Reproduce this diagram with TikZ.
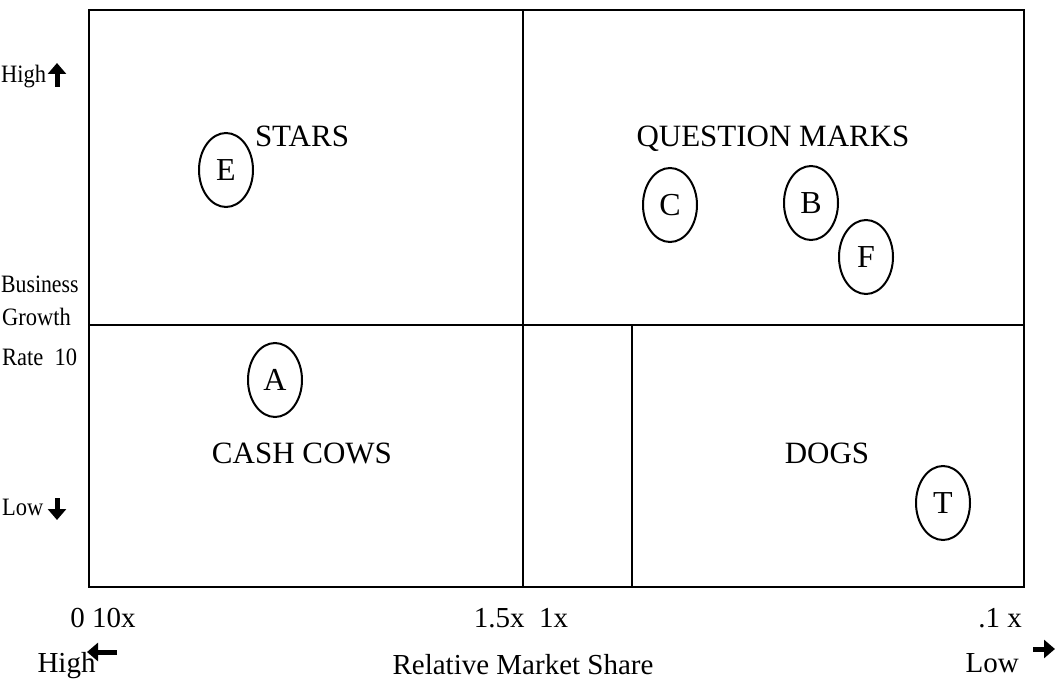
\documentclass[tikz,border=0pt]{standalone}
\usepackage{fontspec}
\setmainfont{Liberation Serif}
\usetikzlibrary{arrows.meta,shapes.geometric}
\begin{document}
\begin{tikzpicture}[x=1pt,y=-1pt,
  frame/.style={line width=1.7pt},
  pt/.style={draw,line width=2pt,ellipse,minimum width=54pt,minimum height=74pt,inner sep=0pt,font=\fontsize{32}{34}\selectfont},
  quad/.style={anchor=base,font=\fontsize{31}{34}\selectfont},
  axlab/.style={anchor=base,font=\fontsize{29}{32}\selectfont},
  sidelab/.style={anchor=base west,inner sep=0pt,font=\fontsize{25}{28}\selectfont},
  bigarrow/.style={line width=5pt,-{Triangle[width=18pt,length=11pt]}}]
\useasboundingbox (0,0) rectangle (1058,679);
% frame
\draw[frame] (89,10) rectangle (1024,587);
\coordinate (ml) at (89,325);
\coordinate (mr) at (1024,325);
\coordinate (vt) at (523,10);
\coordinate (vb) at (523,587);
\coordinate (dt) at (632,325);
\coordinate (db) at (632,587);
\draw[frame] (ml) -- (mr);
\draw[frame] (vt) -- (vb);
\draw[frame] (dt) -- (db);
% quadrant labels
\node[quad] (stars) at (302,147) {STARS};
\node[quad] (qm) at (773,147) {QUESTION MARKS};
\node[quad] (cc) at (302,463) {CASH COWS};
\node[quad] (dogs) at (827,463) {DOGS};
% points
\node[pt] (E) at (226,170) {E};
\node[pt] (C) at (670,205) {C};
\node[pt] (B) at (811,203) {B};
\node[pt] (F) at (866,257) {F};
\node[pt] (A) at (275,380) {A};
\node[pt] (T) at (943,503) {T};
% bottom axis
\node[axlab] (x0) at (103,627) {0 10x};
\node[axlab] (x15) at (521,627) {1.5x\enspace 1x};
\node[axlab] (x01) at (1000,627) {.1 x};
\node[axlab] (rms) at (523,674) {Relative Market Share};
\node[axlab,anchor=base west] (hi) at (34,672) {High};
\node[axlab,anchor=base west] (lo) at (962,672) {Low};
\coordinate (hiT) at (117,652);
\coordinate (hiH) at (87,652);
\draw[bigarrow] (hiT) -- (hiH);
\coordinate (loT) at (1033,649);
\coordinate (loH) at (1055,649);
\draw[bigarrow] (loT) -- (loH);
% left axis
\node[sidelab] (high) at (1,83) {\scalebox{0.9}[1]{High}};
\coordinate (upT) at (57,87);
\coordinate (upH) at (57,63);
\draw[bigarrow] (upT) -- (upH);
\node[sidelab] (bus) at (1,293) {\scalebox{0.87}[1]{Business}};
\node[sidelab] (gro) at (2,325) {\scalebox{0.9}[1]{Growth}};
\node[sidelab] (rate) at (2,365) {\scalebox{0.9}[1]{Rate\enspace 10}};
\node[sidelab] (low) at (2,515) {\scalebox{0.9}[1]{Low}};
\coordinate (dnT) at (57,498);
\coordinate (dnH) at (57,520);
\draw[bigarrow] (dnT) -- (dnH);
\end{tikzpicture}
\end{document}
